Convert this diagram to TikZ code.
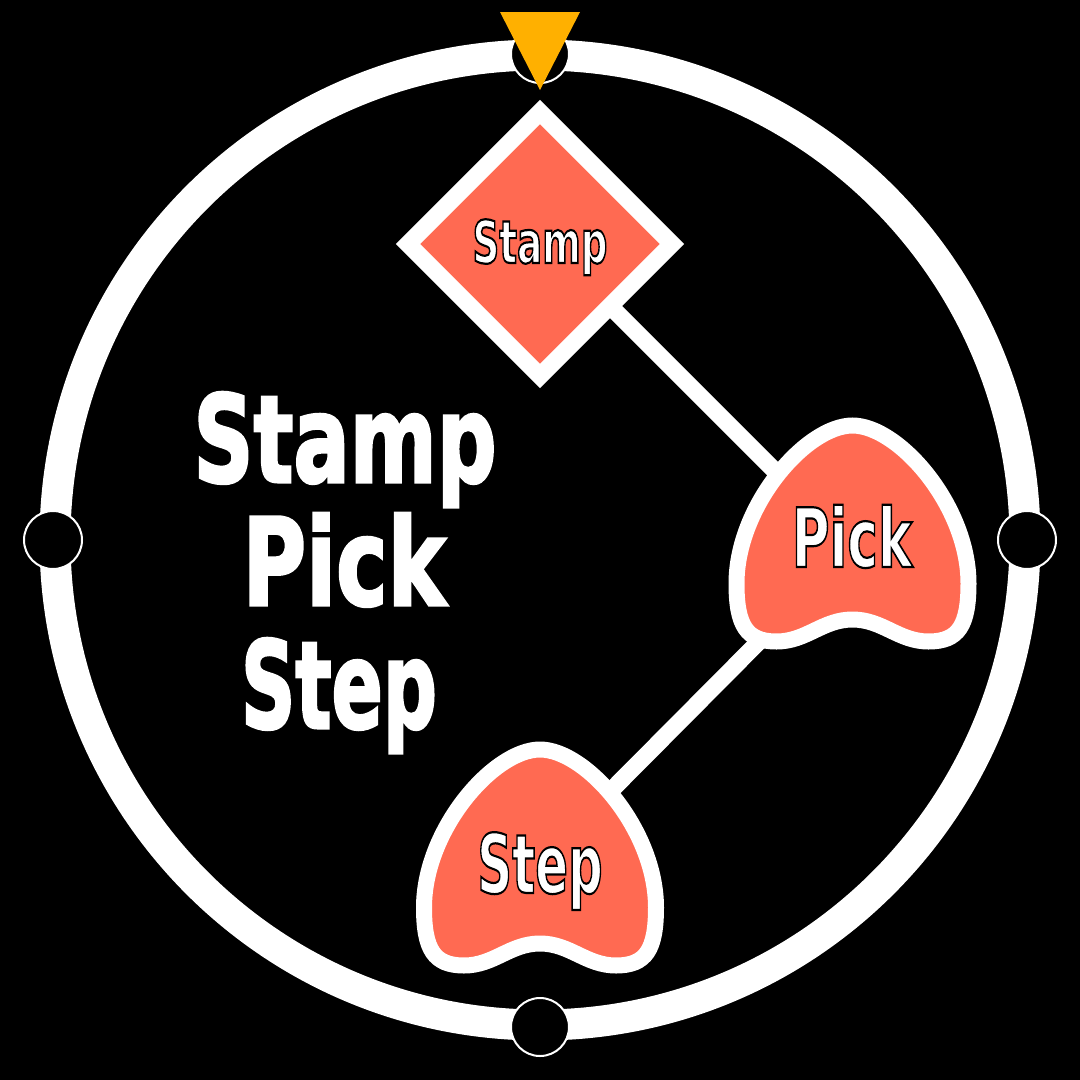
\documentclass[tikz,border=0pt]{standalone}
\usepackage{fontspec}
\setmainfont{DejaVu Sans}
\newfontfamily\heavy[FakeBold=2.5]{DejaVu Sans Bold}
\definecolor{salmon}{HTML}{FF6A52}
\definecolor{amber}{HTML}{FFB000}
\newcommand\outl[1]{\special{pdf:literal 2 Tr 0 G 2.2 w}#1\special{pdf:literal 0 Tr}}
\tikzset{
  ring/.style={draw=white, line width=31pt},
  knob/.style={draw=white, line width=2pt, fill=black},
  link/.style={draw=white, line width=17pt},
  shapeborder/.style={draw=white, line width=16pt, fill=salmon},
  bigtxt/.style={anchor=base, text=white, inner sep=0pt, font=\heavy\fontsize{121}{121}\selectfont},
  lbl/.style={anchor=base, text=white, inner sep=0pt},
  pickshape/.pic={
    \path[shapeborder] (0,-108) .. controls (46,-108) and (116,-28) .. (116,50)
      .. controls (116,92) and (106,108) .. (76,108)
      .. controls (46,108) and (30,86) .. (0,86)
      .. controls (-30,86) and (-46,108) .. (-76,108)
      .. controls (-106,108) and (-116,92) .. (-116,50)
      .. controls (-116,-28) and (-46,-108) .. (0,-108) -- cycle;
  }
}
\begin{document}
\begin{tikzpicture}[x=1pt,y=-1pt]
\fill[black] (0,0) rectangle (1080,1080);
\useasboundingbox (0,0) rectangle (1080,1080);
% ring
\draw[ring] (540,540) circle[radius=485pt];
\draw[knob] (540,54) circle[radius=29pt];
\draw[knob] (53,540) circle[radius=29pt];
\draw[knob] (1027,540) circle[radius=29pt];
\draw[knob] (540,1027) circle[radius=29pt];
\fill[amber] (500,12) -- (580,12) -- (540,90) -- cycle;
% hubs
\coordinate (stampc) at (540,236);
\coordinate (pickc) at (852,548);
\coordinate (stepc) at (540,862);
\draw[link] (stampc) -- (pickc);
\draw[link] (pickc) -- (stepc);
% shapes
\draw[draw=white, line width=17pt, fill=salmon, line join=miter]
  (540,112) -- (672,244) -- (540,376) -- (408,244) -- cycle;
\pic at (852.5,533.5) {pickshape};
\pic at (540,857.5) {pickshape};
% labels
\node[lbl] (stamp) at (540,263) {\bfseries\fontsize{59}{59}\selectfont\scalebox{0.63}[1]{\outl{Stamp}}};
\node[lbl] (pick) at (852,567) {\bfseries\fontsize{82}{82}\selectfont\scalebox{0.63}[1]{\outl{Pick}}};
\node[lbl] (step) at (540,893) {\bfseries\fontsize{82}{82}\selectfont\scalebox{0.59}[1]{\outl{Step}}};
% title
\node[bigtxt] (t1) at (345,482) {\scalebox{0.69}[1]{Stamp}};
\node[bigtxt] (t2) at (344,605) {\scalebox{0.72}[1]{Pick}};
\node[bigtxt] (t3) at (339,728) {\scalebox{0.625}[1]{Step}};
\end{tikzpicture}
\end{document}
